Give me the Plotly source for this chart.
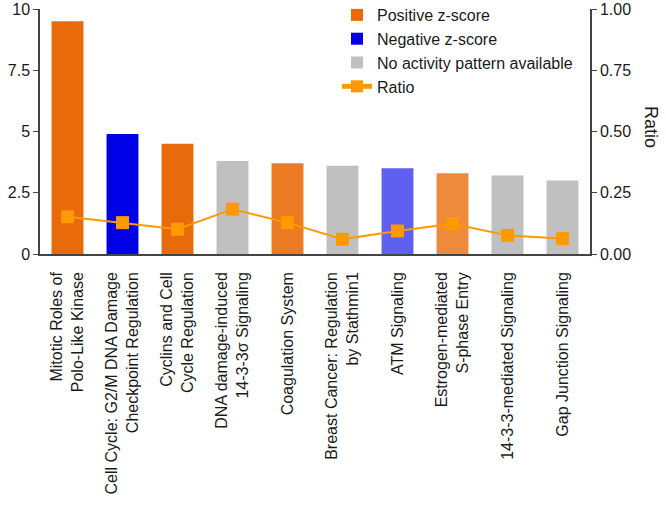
import plotly.graph_objects as go

categories = [
    "Mitotic Roles of<br>Polo-Like Kinase",
    "Cell Cycle: G2/M DNA Damage<br>Checkpoint Regulation",
    "Cyclins and Cell<br>Cycle Regulation",
    "DNA damage-induced<br>14-3-3σ Signaling",
    "Coagulation System",
    "Breast Cancer: Regulation<br>by Stathmin1",
    "ATM Signaling",
    "Estrogen-mediated<br>S-phase Entry",
    "14-3-3-mediated Signaling",
    "Gap Junction Signaling",
]
log_p = [9.5, 4.9, 4.5, 3.8, 3.7, 3.6, 3.5, 3.3, 3.2, 3.0]
ratio = [0.152, 0.128, 0.101, 0.183, 0.128, 0.060, 0.094, 0.123, 0.076, 0.063]
group = ["pos", "neg", "pos", "none", "pos", "none", "neg", "pos", "none", "none"]
bar_colors = ["#E96A0A", "#0000E6", "#E96A0A", "#C0C0C0", "#EC7A22",
              "#C0C0C0", "#5F5FF0", "#EE8A3B", "#C0C0C0", "#C0C0C0"]
group_names = {"pos": "Positive z-score", "neg": "Negative z-score",
               "none": "No activity pattern available"}

FONT = "Liberation Sans, Arial, sans-serif"
TXT = "#1a1a1a"
AX = "#444444"

W, H = 666, 512
# plot area in page pixels: x 40..590, y 9..254
ML, MT, MR, MB = 40, 9, W - 590, H - 254
pw, ph = W - ML - MR, H - MT - MB

fig = go.Figure()
for g in ["pos", "neg", "none"]:
    idx = [i for i, v in enumerate(group) if v == g]
    fig.add_trace(go.Bar(
        x=[categories[i] for i in idx],
        y=[log_p[i] for i in idx],
        marker=dict(color=[bar_colors[i] for i in idx], line=dict(width=0)),
        width=0.58,
        name=group_names[g],
    ))

fig.add_trace(go.Scatter(
    x=categories, y=ratio, yaxis="y2", mode="lines+markers",
    line=dict(color="#FF9900", width=2),
    marker=dict(symbol="square", size=13, color="#FF9900"),
    name="Ratio",
))

fig.update_layout(
    width=W, height=H,
    margin=dict(l=ML, r=MR, t=MT, b=MB, autoexpand=False),
    plot_bgcolor="white", paper_bgcolor="white",
    barmode="overlay",
    font=dict(family=FONT, size=16, color=TXT),
    showlegend=True,
    legend=dict(x=(337 - ML) / pw, y=1 + 11 / ph, xanchor="left", yanchor="top",
                bgcolor="rgba(0,0,0,0)", font=dict(size=16, color=TXT),
                itemsizing="constant", tracegroupgap=0),
    xaxis=dict(
        categoryorder="array", categoryarray=categories,
        tickangle=-90, showline=True, linecolor=AX, linewidth=1.5,
        ticks="outside", ticklen=10, tickcolor="rgba(0,0,0,0)",
        showgrid=False, tickfont=dict(size=16, color=TXT),
        range=[-0.5, 9.5], automargin=False,
    ),
    yaxis=dict(
        range=[0, 10], tickvals=[0, 2.5, 5, 7.5, 10],
        ticktext=["0", "2.5", "5", "7.5", "10"],
        showline=True, linecolor=AX, linewidth=1.5, ticks="outside",
        ticklen=5, tickcolor=AX, showgrid=False, zeroline=False,
        tickfont=dict(size=16, color=TXT), automargin=False,
        ticklabeloverflow="allow",
    ),
    yaxis2=dict(
        range=[0, 1], tickvals=[0, 0.25, 0.5, 0.75, 1.0],
        ticktext=["0.00", "0.25", "0.50", "0.75", "1.00"],
        overlaying="y", side="right",
        showline=True, linecolor=AX, linewidth=1.5, ticks="outside",
        ticklen=5, tickcolor=AX, showgrid=False, zeroline=False,
        tickfont=dict(size=16, color=TXT), automargin=False,
        ticklabeloverflow="allow",
    ),
    annotations=[dict(
        text="Ratio", x=(651 - ML) / pw, y=(254 - 127) / ph,
        xref="paper", yref="paper", xanchor="center", yanchor="middle",
        showarrow=False, textangle=90, font=dict(size=18, color=TXT),
    )],
)

fig.write_html(
    "out.html",
    config={"displayModeBar": False},
    post_script="document.body.style.margin='0';document.body.style.overflow='hidden';",
)
